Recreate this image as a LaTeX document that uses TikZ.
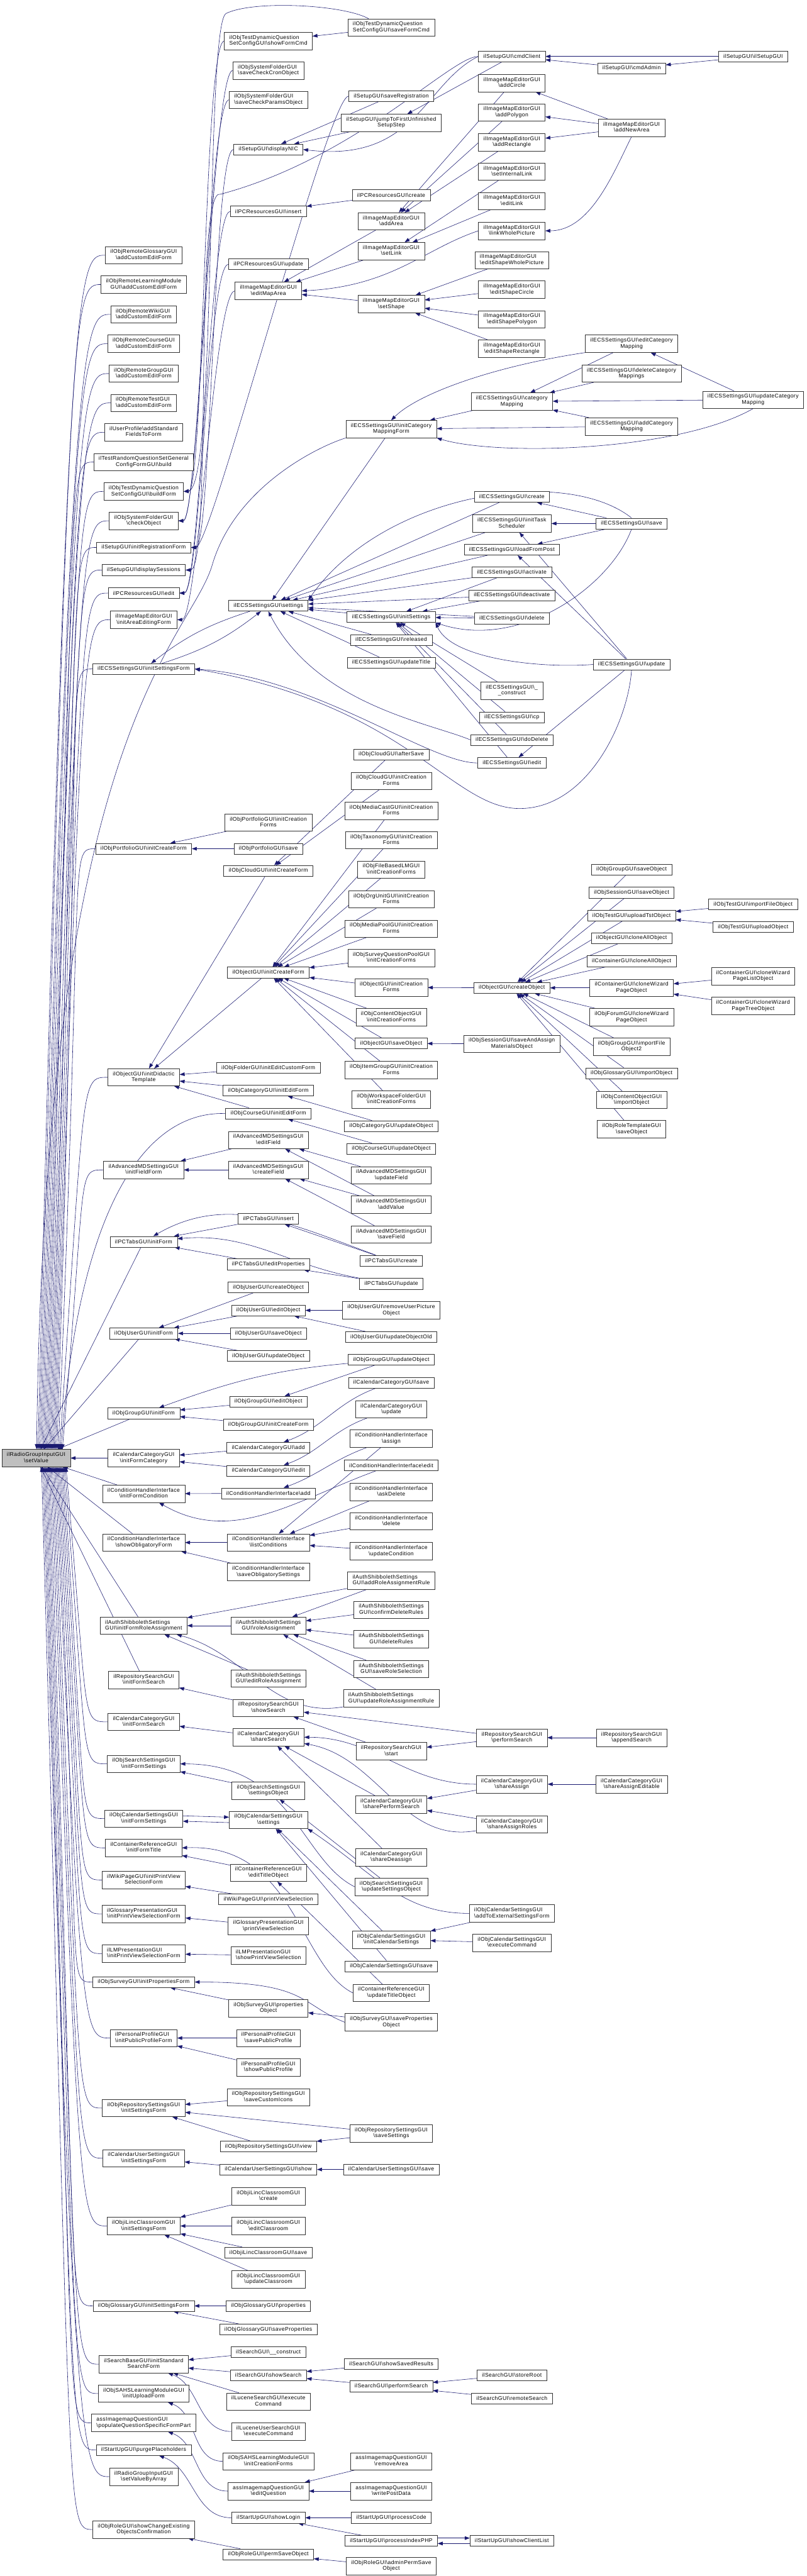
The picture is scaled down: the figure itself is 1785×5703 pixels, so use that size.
\documentclass[tikz,border=0pt]{standalone}
\usepackage{fontspec}
\newfontfamily\dotfont{Liberation Sans}[LetterSpace=5]
\usetikzlibrary{arrows.meta}
\definecolor{edgeblue}{HTML}{191970}
\definecolor{rootgray}{HTML}{BFBFBF}
\newcommand\bs{\textbackslash}
\newcommand\twol[2]{\begin{tabular}{@{}l@{}}#1\\\multicolumn{1}{@{}c@{}}{#2}\end{tabular}}
\pgfdeclarelayer{edges}
\pgfsetlayers{edges,main}

\begin{document}
\begin{tikzpicture}[
        x=1pt, y=-1pt,
        every node/.style={font=\dotfont\fontsize{12}{13.2}\selectfont},
        box/.style={rectangle, draw=black!80, line width=0.8pt, fill=white, inner xsep=11pt, inner ysep=6pt, minimum height=24pt},
        rootbox/.style={box, fill=rootgray},
        arr/.style={{Triangle[length=11pt,width=8pt]}-, draw=edgeblue, line width=0.8pt}
        ]
        \useasboundingbox (0,0) rectangle (1785,5703);

        % edge from the root up or down into a caller
        \def\fromtop#1#2#3{\draw[arr] (root.north -| #2,0) .. controls (#3,0 |- #1.west) and ([xshift=-60pt]#1.west) .. (#1.west);}
        \def\frombot#1#2#3{\draw[arr] (root.south -| #2,0) .. controls (#3,0 |- #1.west) and ([xshift=-60pt]#1.west) .. (#1.west);}
        % long edge between neighbouring columns
        \def\vlong#1#2{\draw[arr] (#1.east) .. controls +(45,0) and +(-45,0) .. (#2.west);}

        % The root
        \node[rootbox] (root) at (80,3228) {\twol{ilRadioGroupInputGUI}{\bs setValue}};

        % Setup and image map
        \node[box] (tdSave) at (866,61) {\twol{ilObjTestDynamicQuestion}{SetConfigGUI\bs saveFormCmd}};
        \node[box] (tdShow) at (594,91) {\twol{ilObjTestDynamicQuestion}{SetConfigGUI\bs showFormCmd}};
        \node[box] (sfCron) at (594,156) {\twol{ilObjSystemFolderGUI}{\bs saveCheckCronObject}};
        \node[box] (sfParams) at (594,221) {\twol{ilObjSystemFolderGUI}{\bs saveCheckParamsObject}};
        \node[box] (suSaveReg) at (866,213) {ilSetupGUI\bs saveRegistration};
        \node[box] (suJump) at (866,272) {\twol{ilSetupGUI\bs jumpToFirstUnfinished}{SetupStep}};
        \node[box] (suNIC) at (594,331) {ilSetupGUI\bs displayNIC};
        \node[box] (suClient) at (1133,125) {ilSetupGUI\bs cmdClient};
        \node[box] (suAdmin) at (1398,151) {ilSetupGUI\bs cmdAdmin};
        \node[box] (suSetup) at (1667,125) {ilSetupGUI\bs ilSetupGUI};
        \node[box] (imCircle) at (1133,184) {\twol{ilImageMapEditorGUI}{\bs addCircle}};
        \node[box] (imPolygon) at (1133,249) {\twol{ilImageMapEditorGUI}{\bs addPolygon}};
        \node[box] (imRect) at (1133,315) {\twol{ilImageMapEditorGUI}{\bs addRectangle}};
        \node[box] (imIntLink) at (1133,380) {\twol{ilImageMapEditorGUI}{\bs setInternalLink}};
        \node[box] (imEditLink) at (1133,445) {\twol{ilImageMapEditorGUI}{\bs editLink}};
        \node[box] (imWhole) at (1133,511) {\twol{ilImageMapEditorGUI}{\bs linkWholePicture}};
        \node[box] (imShWhole) at (1133,576) {\twol{ilImageMapEditorGUI}{\bs editShapeWholePicture}};
        \node[box] (imShCircle) at (1133,641) {\twol{ilImageMapEditorGUI}{\bs editShapeCircle}};
        \node[box] (imShPoly) at (1133,707) {\twol{ilImageMapEditorGUI}{\bs editShapePolygon}};
        \node[box] (imShRect) at (1133,772) {\twol{ilImageMapEditorGUI}{\bs editShapeRectangle}};
        \node[box] (imNewArea) at (1398,283) {\twol{ilImageMapEditorGUI}{\bs addNewArea}};
        \node[box] (pcrCreate) at (866,432) {ilPCResourcesGUI\bs create};
        \node[box] (pcrInsert) at (594,468) {ilPCResourcesGUI\bs insert};
        \node[box] (imAddArea) at (866,490) {\twol{ilImageMapEditorGUI}{\bs addArea}};
        \node[box] (imSetLink) at (866,556) {\twol{ilImageMapEditorGUI}{\bs setLink}};
        \node[box] (pcrUpdate) at (594,585) {ilPCResourcesGUI\bs update};
        \node[box] (imEditMap) at (594,644) {\twol{ilImageMapEditorGUI}{\bs editMapArea}};
        \node[box] (imSetShape) at (866,673) {\twol{ilImageMapEditorGUI}{\bs setShape}};

        % ECS category mapping
        \node[box] (ecsEditMap) at (1398,761) {\twol{ilECSSettingsGUI\bs editCategory}{Mapping}};
        \node[box] (ecsDelMap) at (1398,827) {\twol{ilECSSettingsGUI\bs deleteCategory}{Mappings}};
        \node[box] (ecsCatMap) at (1133,889) {\twol{ilECSSettingsGUI\bs category}{Mapping}};
        \node[box] (ecsUpdMap) at (1667,885) {\twol{ilECSSettingsGUI\bs updateCategory}{Mapping}};
        \node[box] (ecsAddMap) at (1398,944) {\twol{ilECSSettingsGUI\bs addCategory}{Mapping}};
        \node[box] (ecsMapForm) at (866,950) {\twol{ilECSSettingsGUI\bs initCategory}{MappingForm}};

        % Callers in the second column, upper part
        \node[box] (rGloss) at (318,565) {\twol{ilObjRemoteGlossaryGUI}{\bs addCustomEditForm}};
        \node[box] (rLM) at (318,630) {\twol{ilObjRemoteLearningModule}{GUI\bs addCustomEditForm}};
        \node[box] (rWiki) at (318,696) {\twol{ilObjRemoteWikiGUI}{\bs addCustomEditForm}};
        \node[box] (rCourse) at (318,761) {\twol{ilObjRemoteCourseGUI}{\bs addCustomEditForm}};
        \node[box] (rGroup) at (318,827) {\twol{ilObjRemoteGroupGUI}{\bs addCustomEditForm}};
        \node[box] (rTest) at (318,892) {\twol{ilObjRemoteTestGUI}{\bs addCustomEditForm}};
        \node[box] (upStd) at (318,957) {\twol{ilUserProfile\bs addStandard}{FieldsToForm}};
        \node[box] (trBuild) at (318,1023) {\twol{ilTestRandomQuestionSetGeneral}{ConfigFormGUI\bs build}};
        \node[box] (tdBuild) at (318,1088) {\twol{ilObjTestDynamicQuestion}{SetConfigGUI\bs buildForm}};
        \node[box] (sfCheck) at (318,1153) {\twol{ilObjSystemFolderGUI}{\bs checkObject}};
        \node[box] (suRegForm) at (318,1212) {ilSetupGUI\bs initRegistrationForm};
        \node[box] (suSessions) at (318,1262) {ilSetupGUI\bs displaySessions};
        \node[box] (pcrEdit) at (318,1313) {ilPCResourcesGUI\bs edit};
        \node[box] (imAreaForm) at (318,1372) {\twol{ilImageMapEditorGUI}{\bs initAreaEditingForm}};
        \node[box] (ecsSetForm) at (318,1481) {ilECSSettingsGUI\bs initSettingsForm};

        % ECS settings
        \node[box] (ecsSettings) at (594,1341) {ilECSSettingsGUI\bs settings};
        \node[box] (ecsInit) at (866,1366) {ilECSSettingsGUI\bs initSettings};
        \node[box] (ecsReleased) at (866,1417) {ilECSSettingsGUI\bs released};
        \node[box] (ecsUpdTitle) at (866,1467) {ilECSSettingsGUI\bs updateTitle};
        \node[box] (ecsCreate) at (1133,1100) {ilECSSettingsGUI\bs create};
        \node[box] (ecsTask) at (1133,1159) {\twol{ilECSSettingsGUI\bs initTask}{Scheduler}};
        \node[box] (ecsLoad) at (1133,1217) {ilECSSettingsGUI\bs loadFromPost};
        \node[box] (ecsActivate) at (1133,1267) {ilECSSettingsGUI\bs activate};
        \node[box] (ecsDeactivate) at (1133,1318) {ilECSSettingsGUI\bs deactivate};
        \node[box] (ecsDelete) at (1133,1369) {ilECSSettingsGUI\bs delete};
        \node[box] (ecsConstruct) at (1133,1529) {\twol{ilECSSettingsGUI\bs\_}{\_construct}};
        \node[box] (ecsCp) at (1133,1588) {ilECSSettingsGUI\bs cp};
        \node[box] (ecsDoDelete) at (1133,1638) {ilECSSettingsGUI\bs doDelete};
        \node[box] (ecsEdit) at (1133,1689) {ilECSSettingsGUI\bs edit};
        \node[box] (ecsSave) at (1398,1159) {ilECSSettingsGUI\bs save};
        \node[box] (ecsUpdate) at (1398,1471) {ilECSSettingsGUI\bs update};

        % Creation forms
        \node[box] (clAfter) at (866,1670) {ilObjCloudGUI\bs afterSave};
        \node[box] (clCreation) at (866,1729) {\twol{ilObjCloudGUI\bs initCreation}{Forms}};
        \node[box] (mcCreation) at (866,1795) {\twol{ilObjMediaCastGUI\bs initCreation}{Forms}};
        \node[box] (taxCreation) at (866,1860) {\twol{ilObjTaxonomyGUI\bs initCreation}{Forms}};
        \node[box] (pfCreation) at (594,1821) {\twol{ilObjPortfolioGUI\bs initCreation}{Forms}};
        \node[box] (pfCreateForm) at (318,1879) {ilObjPortfolioGUI\bs initCreateForm};
        \node[box] (pfSave) at (594,1879) {ilObjPortfolioGUI\bs save};
        \node[box] (flmCreation) at (866,1925) {\twol{ilObjFileBasedLMGUI}{\bs initCreationForms}};
        \node[box] (clCreateForm) at (594,1928) {ilObjCloudGUI\bs initCreateForm};
        \node[box] (ouCreation) at (866,1991) {\twol{ilObjOrgUnitGUI\bs initCreation}{Forms}};
        \node[box] (mpCreation) at (866,2056) {\twol{ilObjMediaPoolGUI\bs initCreation}{Forms}};
        \node[box] (sqpCreation) at (866,2121) {\twol{ilObjSurveyQuestionPoolGUI}{\bs initCreationForms}};
        \node[box] (obCreateForm) at (594,2153) {ilObjectGUI\bs initCreateForm};
        \node[box] (obCreation) at (866,2186) {\twol{ilObjectGUI\bs initCreation}{Forms}};
        \node[box] (coCreation) at (866,2252) {\twol{ilObjContentObjectGUI}{\bs initCreationForms}};
        \node[box] (obSave) at (866,2310) {ilObjectGUI\bs saveObject};
        \node[box] (igCreation) at (866,2369) {\twol{ilObjItemGroupGUI\bs initCreation}{Forms}};
        \node[box] (wfCreation) at (866,2434) {\twol{ilObjWorkspaceFolderGUI}{\bs initCreationForms}};
        \node[box] (obDidactic) at (318,2385) {\twol{ilObjectGUI\bs initDidactic}{Template}};
        \node[box] (fdEditForm) at (594,2364) {ilObjFolderGUI\bs initEditCustomForm};
        \node[box] (catEditForm) at (594,2414) {ilObjCategoryGUI\bs initEditForm};
        \node[box] (crsEditForm) at (594,2465) {ilObjCourseGUI\bs initEditForm};
        \node[box] (catUpdate) at (866,2493) {ilObjCategoryGUI\bs updateObject};
        \node[box] (crsUpdate) at (866,2543) {ilObjCourseGUI\bs updateObject};
        \node[box] (obCreateObj) at (1133,2187) {ilObjectGUI\bs createObject};
        \node[box] (sessAssign) at (1133,2311) {\twol{ilObjSessionGUI\bs saveAndAssign}{MaterialsObject}};
        \node[box] (grpSave) at (1398,1925) {ilObjGroupGUI\bs saveObject};
        \node[box] (sessSave) at (1398,1976) {ilObjSessionGUI\bs saveObject};
        \node[box] (tstUploadTst) at (1398,2027) {ilObjTestGUI\bs uploadTstObject};
        \node[box] (obClone) at (1398,2077) {ilObjectGUI\bs cloneAllObject};
        \node[box] (contClone) at (1398,2128) {ilContainerGUI\bs cloneAllObject};
        \node[box] (contWizard) at (1398,2187) {\twol{ilContainerGUI\bs cloneWizard}{PageObject}};
        \node[box] (frmWizard) at (1398,2252) {\twol{ilObjForumGUI\bs cloneWizard}{PageObject}};
        \node[box] (grpImport) at (1398,2317) {\twol{ilObjGroupGUI\bs importFile}{Object2}};
        \node[box] (glsImport) at (1398,2376) {ilObjGlossaryGUI\bs importObject};
        \node[box] (coImport) at (1398,2435) {\twol{ilObjContentObjectGUI}{\bs importObject}};
        \node[box] (rtSave) at (1398,2500) {\twol{ilObjRoleTemplateGUI}{\bs saveObject}};
        \node[box] (tstImportFile) at (1667,2002) {ilObjTestGUI\bs importFileObject};
        \node[box] (tstUpload) at (1667,2052) {ilObjTestGUI\bs uploadObject};
        \node[box] (contWizList) at (1667,2161) {\twol{ilContainerGUI\bs cloneWizard}{PageListObject}};
        \node[box] (contWizTree) at (1667,2227) {\twol{ilContainerGUI\bs cloneWizard}{PageTreeObject}};

        % Advanced metadata and tabs
        \node[box] (amdFieldForm) at (318,2590) {\twol{ilAdvancedMDSettingsGUI}{\bs initFieldForm}};
        \node[box] (amdEdit) at (594,2524) {\twol{ilAdvancedMDSettingsGUI}{\bs editField}};
        \node[box] (amdCreate) at (594,2590) {\twol{ilAdvancedMDSettingsGUI}{\bs createField}};
        \node[box] (amdUpdate) at (866,2602) {\twol{ilAdvancedMDSettingsGUI}{\bs updateField}};
        \node[box] (amdAddVal) at (866,2667) {\twol{ilAdvancedMDSettingsGUI}{\bs addValue}};
        \node[box] (amdSave) at (866,2733) {\twol{ilAdvancedMDSettingsGUI}{\bs saveField}};
        \node[box] (tabsForm) at (318,2749) {ilPCTabsGUI\bs initForm};
        \node[box] (tabsInsert) at (594,2698) {ilPCTabsGUI\bs insert};
        \node[box] (tabsEditProps) at (594,2799) {ilPCTabsGUI\bs editProperties};
        \node[box] (tabsCreate) at (866,2791) {ilPCTabsGUI\bs create};
        \node[box] (tabsUpdate) at (866,2842) {ilPCTabsGUI\bs update};

        % Users, groups, calendar categories
        \node[box] (usrForm) at (318,2952) {ilObjUserGUI\bs initForm};
        \node[box] (usrCreate) at (594,2850) {ilObjUserGUI\bs createObject};
        \node[box] (usrEdit) at (594,2901) {ilObjUserGUI\bs editObject};
        \node[box] (usrSave) at (594,2952) {ilObjUserGUI\bs saveObject};
        \node[box] (usrUpdate) at (594,3002) {ilObjUserGUI\bs updateObject};
        \node[box] (usrRemovePic) at (866,2901) {\twol{ilObjUserGUI\bs removeUserPicture}{Object}};
        \node[box] (usrUpdOld) at (866,2960) {ilObjUserGUI\bs updateObjectOld};
        \node[box] (grpForm) at (318,3129) {ilObjGroupGUI\bs initForm};
        \node[box] (grpEdit) at (594,3103) {ilObjGroupGUI\bs editObject};
        \node[box] (grpCreateForm) at (594,3154) {ilObjGroupGUI\bs initCreateForm};
        \node[box] (grpUpdate) at (866,3010) {ilObjGroupGUI\bs updateObject};
        \node[box] (calFormCat) at (318,3228) {\twol{ilCalendarCategoryGUI}{\bs initFormCategory}};
        \node[box] (calAdd) at (594,3205) {ilCalendarCategoryGUI\bs add};
        \node[box] (calEdit) at (594,3256) {ilCalendarCategoryGUI\bs edit};
        \node[box] (calSave) at (866,3061) {ilCalendarCategoryGUI\bs save};
        \node[box] (calUpdate) at (866,3120) {\twol{ilCalendarCategoryGUI}{\bs update}};

        % Conditions
        \node[box] (condForm) at (318,3307) {\twol{ilConditionHandlerInterface}{\bs initFormCondition}};
        \node[box] (condAdd) at (594,3306) {ilConditionHandlerInterface\bs add};
        \node[box] (condAssign) at (866,3185) {\twol{ilConditionHandlerInterface}{\bs assign}};
        \node[box] (condEdit) at (866,3244) {ilConditionHandlerInterface\bs edit};
        \node[box] (condAskDel) at (866,3303) {\twol{ilConditionHandlerInterface}{\bs askDelete}};
        \node[box] (condDelete) at (866,3368) {\twol{ilConditionHandlerInterface}{\bs delete}};
        \node[box] (condUpdate) at (866,3434) {\twol{ilConditionHandlerInterface}{\bs updateCondition}};
        \node[box] (condOblig) at (318,3415) {\twol{ilConditionHandlerInterface}{\bs showObligatoryForm}};
        \node[box] (condList) at (594,3415) {\twol{ilConditionHandlerInterface}{\bs listConditions}};
        \node[box] (condSaveOblig) at (594,3480) {\twol{ilConditionHandlerInterface}{\bs saveObligatorySettings}};

        % Shibboleth
        \node[box] (shibForm) at (318,3599) {\twol{ilAuthShibbolethSettings}{GUI\bs initFormRoleAssignment}};
        \node[box] (shibRole) at (594,3599) {\twol{ilAuthShibbolethSettings}{GUI\bs roleAssignment}};
        \node[box] (shibEditRole) at (594,3716) {\twol{ilAuthShibbolethSettings}{GUI\bs editRoleAssignment}};
        \node[box] (shibAddRule) at (866,3499) {\twol{ilAuthShibbolethSettings}{GUI\bs addRoleAssignmentRule}};
        \node[box] (shibConfirm) at (866,3564) {\twol{ilAuthShibbolethSettings}{GUI\bs confirmDeleteRules}};
        \node[box] (shibDelRules) at (866,3629) {\twol{ilAuthShibbolethSettings}{GUI\bs deleteRules}};
        \node[box] (shibSaveSel) at (866,3695) {\twol{ilAuthShibbolethSettings}{GUI\bs saveRoleSelection}};
        \node[box] (shibUpdRule) at (866,3760) {\twol{ilAuthShibbolethSettings}{GUI\bs updateRoleAssignmentRule}};

        % Searches and settings forms
        \node[box] (rsForm) at (318,3719) {\twol{ilRepositorySearchGUI}{\bs initFormSearch}};
        \node[box] (rsShow) at (594,3781) {\twol{ilRepositorySearchGUI}{\bs showSearch}};
        \node[box] (rsStart) at (866,3877) {\twol{ilRepositorySearchGUI}{\bs start}};
        \node[box] (rsPerform) at (1133,3847) {\twol{ilRepositorySearchGUI}{\bs performSearch}};
        \node[box] (rsAppend) at (1398,3847) {\twol{ilRepositorySearchGUI}{\bs appendSearch}};
        \node[box] (ccForm) at (318,3812) {\twol{ilCalendarCategoryGUI}{\bs initFormSearch}};
        \node[box] (ccShare) at (594,3846) {\twol{ilCalendarCategoryGUI}{\bs shareSearch}};
        \node[box] (ccPerform) at (866,3995) {\twol{ilCalendarCategoryGUI}{\bs sharePerformSearch}};
        \node[box] (ccDeassign) at (866,4112) {\twol{ilCalendarCategoryGUI}{\bs shareDeassign}};
        \node[box] (ccAssign) at (1133,3950) {\twol{ilCalendarCategoryGUI}{\bs shareAssign}};
        \node[box] (ccAssignRoles) at (1133,4039) {\twol{ilCalendarCategoryGUI}{\bs shareAssignRoles}};
        \node[box] (ccAssignEd) at (1398,3950) {\twol{ilCalendarCategoryGUI}{\bs shareAssignEditable}};
        \node[box] (ssForm) at (318,3905) {\twol{ilObjSearchSettingsGUI}{\bs initFormSettings}};
        \node[box] (ssObj) at (594,3964) {\twol{ilObjSearchSettingsGUI}{\bs settingsObject}};
        \node[box] (ssUpd) at (866,4177) {\twol{ilObjSearchSettingsGUI}{\bs updateSettingsObject}};
        \node[box] (csForm) at (318,4026) {\twol{ilObjCalendarSettingsGUI}{\bs initFormSettings}};
        \node[box] (csSettings) at (594,4029) {\twol{ilObjCalendarSettingsGUI}{\bs settings}};
        \node[box] (csInit) at (866,4294) {\twol{ilObjCalendarSettingsGUI}{\bs initCalendarSettings}};
        \node[box] (csSave) at (866,4353) {ilObjCalendarSettingsGUI\bs save};
        \node[box] (csExtForm) at (1133,4236) {\twol{ilObjCalendarSettingsGUI}{\bs addToExternalSettingsForm}};
        \node[box] (csExec) at (1133,4301) {\twol{ilObjCalendarSettingsGUI}{\bs executeCommand}};
        \node[box] (crForm) at (318,4091) {\twol{ilContainerReferenceGUI}{\bs initFormTitle}};
        \node[box] (crEdit) at (594,4146) {\twol{ilContainerReferenceGUI}{\bs editTitleObject}};
        \node[box] (crUpd) at (866,4412) {\twol{ilContainerReferenceGUI}{\bs updateTitleObject}};
        \node[box] (wpForm) at (318,4162) {\twol{ilWikiPageGUI\bs initPrintView}{SelectionForm}};
        \node[box] (wpPrint) at (594,4205) {ilWikiPageGUI\bs printViewSelection};
        \node[box] (gpForm) at (318,4237) {\twol{ilGlossaryPresentationGUI}{\bs initPrintViewSelectionForm}};
        \node[box] (gpPrint) at (594,4264) {\twol{ilGlossaryPresentationGUI}{\bs printViewSelection}};
        \node[box] (lmForm) at (318,4325) {\twol{ilLMPresentationGUI}{\bs initPrintViewSelectionForm}};
        \node[box] (lmShow) at (594,4329) {\twol{ilLMPresentationGUI}{\bs showPrintViewSelection}};
        \node[box] (svForm) at (318,4388) {ilObjSurveyGUI\bs initPropertiesForm};
        \node[box] (svProps) at (594,4446) {\twol{ilObjSurveyGUI\bs properties}{Object}};
        \node[box] (svSave) at (866,4477) {\twol{ilObjSurveyGUI\bs saveProperties}{Object}};
        \node[box] (ppForm) at (318,4512) {\twol{ilPersonalProfileGUI}{\bs initPublicProfileForm}};
        \node[box] (ppSave) at (594,4512) {\twol{ilPersonalProfileGUI}{\bs savePublicProfile}};
        \node[box] (ppShow) at (594,4577) {\twol{ilPersonalProfileGUI}{\bs showPublicProfile}};
        \node[box] (rpForm) at (318,4667) {\twol{ilObjRepositorySettingsGUI}{\bs initSettingsForm}};
        \node[box] (rpIcons) at (594,4643) {\twol{ilObjRepositorySettingsGUI}{\bs saveCustomIcons}};
        \node[box] (rpView) at (594,4752) {ilObjRepositorySettingsGUI\bs view};
        \node[box] (rpSave) at (866,4723) {\twol{ilObjRepositorySettingsGUI}{\bs saveSettings}};
        \node[box] (cuForm) at (318,4778) {\twol{ilCalendarUserSettingsGUI}{\bs initSettingsForm}};
        \node[box] (cuShow) at (594,4803) {ilCalendarUserSettingsGUI\bs show};
        \node[box] (cuSave) at (866,4803) {ilCalendarUserSettingsGUI\bs save};
        \node[box] (ilForm) at (318,4928) {\twol{ilObjiLincClassroomGUI}{\bs initSettingsForm}};
        \node[box] (ilCreate) at (594,4862) {\twol{ilObjiLincClassroomGUI}{\bs create}};
        \node[box] (ilEdit) at (594,4928) {\twol{ilObjiLincClassroomGUI}{\bs editClassroom}};
        \node[box] (ilSave) at (594,4987) {ilObjiLincClassroomGUI\bs save};
        \node[box] (ilUpdate) at (594,5046) {\twol{ilObjiLincClassroomGUI}{\bs updateClassroom}};
        \node[box] (glForm) at (318,5105) {ilObjGlossaryGUI\bs initSettingsForm};
        \node[box] (glProps) at (594,5105) {ilObjGlossaryGUI\bs properties};
        \node[box] (glSaveProps) at (594,5157) {ilObjGlossaryGUI\bs saveProperties};
        \node[box] (sbForm) at (318,5234) {\twol{ilSearchBaseGUI\bs initStandard}{SearchForm}};
        \node[box] (srConstruct) at (594,5207) {ilSearchGUI\bs\_\_construct};
        \node[box] (srShow) at (594,5258) {ilSearchGUI\bs showSearch};
        \node[box] (lsExec) at (594,5317) {\twol{ilLuceneSearchGUI\bs execute}{Command}};
        \node[box] (lusExec) at (594,5383) {\twol{ilLuceneUserSearchGUI}{\bs executeCommand}};
        \node[box] (srSaved) at (866,5233) {ilSearchGUI\bs showSavedResults};
        \node[box] (srPerform) at (866,5283) {ilSearchGUI\bs performSearch};
        \node[box] (srStore) at (1133,5258) {ilSearchGUI\bs storeRoot};
        \node[box] (srRemote) at (1133,5310) {ilSearchGUI\bs remoteSearch};
        \node[box] (sahsForm) at (318,5299) {\twol{ilObjSAHSLearningModuleGUI}{\bs initUploadForm}};
        \node[box] (sahsCreation) at (594,5449) {\twol{ilObjSAHSLearningModuleGUI}{\bs initCreationForms}};
        \node[box] (aqPopulate) at (318,5364) {\twol{assImagemapQuestionGUI}{\bs populateQuestionSpecificFormPart}};
        \node[box] (aqEdit) at (594,5515) {\twol{assImagemapQuestionGUI}{\bs editQuestion}};
        \node[box] (aqRemove) at (866,5449) {\twol{assImagemapQuestionGUI}{\bs removeArea}};
        \node[box] (aqWrite) at (866,5515) {\twol{assImagemapQuestionGUI}{\bs writePostData}};
        \node[box] (stPurge) at (318,5424) {ilStartUpGUI\bs purgePlaceholders};
        \node[box] (stLogin) at (594,5574) {ilStartUpGUI\bs showLogin};
        \node[box] (stCode) at (866,5574) {ilStartUpGUI\bs processCode};
        \node[box] (stIndex) at (866,5625) {ilStartUpGUI\bs processIndexPHP};
        \node[box] (stClients) at (1133,5625) {ilStartUpGUI\bs showClientList};
        \node[box] (rgArray) at (318,5483) {\twol{ilRadioGroupInputGUI}{\bs setValueByArray}};
        \node[box] (roConfirm) at (318,5600) {\twol{ilObjRoleGUI\bs showChangeExisting}{ObjectsConfirmation}};
        \node[box] (roPermSave) at (594,5655) {ilObjRoleGUI\bs permSaveObject};
        \node[box] (roAdmin) at (866,5681) {\twol{ilObjRoleGUI\bs adminPermSave}{Object}};

        \begin{pgfonlayer}{edges}
        % Root to its callers
        \fromtop{rGloss}{84}{150} \fromtop{rLM}{87}{153} \fromtop{rWiki}{90}{156} \fromtop{rCourse}{93}{159}
        \fromtop{rGroup}{96}{162} \fromtop{rTest}{99}{165} \fromtop{upStd}{102}{168} \fromtop{trBuild}{105}{170}
        \fromtop{tdBuild}{108}{172} \fromtop{sfCheck}{111}{174} \fromtop{suRegForm}{114}{176} \fromtop{suSessions}{117}{178}
        \fromtop{pcrEdit}{120}{180} \fromtop{imAreaForm}{123}{182} \fromtop{ecsSetForm}{126}{184} \fromtop{pfCreateForm}{129}{186}
        \fromtop{obDidactic}{132}{188} \fromtop{crsEditForm}{135}{190} \fromtop{amdFieldForm}{138}{192}
        \draw[arr] (root.north -| 81,0) .. controls (100,1600) and (420,1420) .. (470,1250) .. controls (520,1080) and (700,990) .. (ecsMapForm.south west);
        \draw[arr] (root) -- (tabsForm);
        \draw[arr] (root) -- (usrForm);
        \draw[arr] (root) -- (grpForm);
        \draw[arr] (root) -- (calFormCat);
        \draw[arr] (root) -- (condForm);
        \draw[arr] (root) -- (condOblig);
        \draw[arr] (root) -- (shibForm);
        \draw[arr] (root) -- (rsForm);
        \frombot{ccForm}{146}{196} \frombot{ssForm}{143}{194} \frombot{csForm}{140}{192} \frombot{crForm}{137}{190}
        \frombot{wpForm}{134}{188} \frombot{gpForm}{131}{186} \frombot{lmForm}{128}{184} \frombot{svForm}{125}{182}
        \frombot{ppForm}{122}{180} \frombot{rpForm}{119}{178} \frombot{cuForm}{116}{176} \frombot{ilForm}{113}{174}
        \frombot{glForm}{110}{172} \frombot{sbForm}{107}{170} \frombot{sahsForm}{104}{168} \frombot{aqPopulate}{101}{166}
        \frombot{stPurge}{98}{164} \frombot{rgArray}{95}{162} \frombot{roConfirm}{92}{160}

        % Setup
        \draw[arr] (suClient) -- (suSetup);
        \draw[arr] (suClient) -- (suAdmin);
        \draw[arr] (suAdmin) -- (suSetup);
        \draw[arr] (suJump) -- (suClient);
        \draw[arr] (suNIC) -- (suSaveReg);
        \draw[arr] (suNIC) -- (suJump);
        \draw[arr] (suNIC.east) .. controls +(250,30) and +(-120,60) .. (suClient.west);
        \vlong{suRegForm}{suNIC}
        \vlong{suRegForm}{suSaveReg}
        \draw[arr] (suSessions.east) .. controls +(60,0) and +(-60,-20) .. (488,430) .. controls +(300,-80) and +(-60,0) .. (suClient.west);
        \draw[arr] (tdShow) -- (tdSave);
        \vlong{tdBuild}{tdShow}
        \draw[arr] (tdBuild.east) .. controls (480,1080) and (455,60) .. (500,30) .. controls (560,0) and (760,10) .. ([xshift=-50pt]tdSave.north);
        \vlong{sfCheck}{sfCron}
        \vlong{sfCheck}{sfParams}
        \draw[arr] (pcrInsert) -- (pcrCreate);
        \vlong{pcrEdit}{pcrInsert}
        \vlong{pcrEdit}{pcrUpdate}

        % Image map editor
        \vlong{imAreaForm}{imEditMap}
        \draw[arr] (imEditMap) -- (imAddArea);
        \draw[arr] (imEditMap) -- (imSetLink);
        \draw[arr] (imEditMap) -- (imSetShape);
        \draw[arr] (imEditMap.east) .. controls +(200,-10) and +(-120,40) .. (imWhole.west);
        \draw[arr] (imAddArea) -- (imCircle);
        \draw[arr] (imAddArea) -- (imPolygon);
        \draw[arr] (imAddArea) -- (imRect);
        \draw[arr] (imSetLink) -- (imIntLink);
        \draw[arr] (imSetLink) -- (imEditLink);
        \draw[arr] (imSetShape) -- (imShWhole);
        \draw[arr] (imSetShape) -- (imShCircle);
        \draw[arr] (imSetShape) -- (imShPoly);
        \draw[arr] (imSetShape) -- (imShRect);
        \draw[arr] (imCircle) -- (imNewArea);
        \draw[arr] (imPolygon) -- (imNewArea);
        \draw[arr] (imRect) -- (imNewArea);
        \draw[arr] (imWhole.east) .. controls +(100,0) and +(-40,80) .. (imNewArea.south);

        % ECS
        \draw[arr] (ecsCatMap) -- (ecsEditMap);
        \draw[arr] (ecsCatMap) -- (ecsDelMap);
        \draw[arr] (ecsCatMap) -- (ecsUpdMap);
        \draw[arr] (ecsCatMap) -- (ecsAddMap);
        \draw[arr] (ecsEditMap) -- (ecsUpdMap);
        \draw[arr] (ecsMapForm) -- (ecsCatMap);
        \draw[arr] (ecsMapForm) -- (ecsAddMap);
        \draw[arr] (ecsMapForm.north) .. controls +(60,-60) and +(-200,30) .. (ecsEditMap.south west);
        \draw[arr] (ecsMapForm.south east) .. controls (1100,1010) and (1500,1000) .. (ecsUpdMap.south);
        \draw[arr] (ecsSettings) -- (ecsMapForm);
        \draw[arr] (ecsSetForm) to[bend left=10] (ecsSettings);
        \draw[arr] (ecsSettings) to[bend left=10] (ecsSetForm);
        \draw[arr] (ecsSettings) -- (ecsInit);
        \draw[arr] (ecsSettings) -- (ecsReleased);
        \draw[arr] (ecsSettings) -- (ecsUpdTitle);
        \draw[arr] (ecsSettings) -- (ecsCreate);
        \draw[arr] (ecsSettings) -- (ecsTask);
        \draw[arr] (ecsSettings) -- (ecsLoad);
        \draw[arr] (ecsSettings) -- (ecsActivate);
        \draw[arr] (ecsSettings) -- (ecsDeactivate);
        \draw[arr] (ecsSettings) -- (ecsDelete);
        \draw[arr] (ecsSettings.south) .. controls (700,1560) and (950,1600) .. (ecsDoDelete.west);
        \draw[arr] (ecsSettings.north east) .. controls (850,1090) and (1250,1030) .. (ecsSave.north);
        \draw[arr] (ecsInit) -- (ecsActivate);
        \draw[arr] (ecsInit) -- (ecsDeactivate);
        \draw[arr] (ecsInit) -- (ecsDelete);
        \draw[arr] (ecsInit) -- (ecsConstruct);
        \draw[arr] (ecsInit) -- (ecsCp);
        \draw[arr] (ecsInit) -- (ecsDoDelete);
        \draw[arr] (ecsInit) -- (ecsEdit);
        \draw[arr] (ecsInit.south east) .. controls (1150,1440) and (1350,1300) .. (ecsSave.south);
        \draw[arr] (ecsInit.south east) .. controls (1000,1460) and (1200,1480) .. (ecsUpdate.west);
        \draw[arr] (ecsCreate) -- (ecsSave);
        \draw[arr] (ecsTask) -- (ecsSave);
        \draw[arr] (ecsLoad) -- (ecsSave);
        \draw[arr] (ecsTask) -- (ecsUpdate);
        \draw[arr] (ecsLoad) -- (ecsUpdate);
        \draw[arr] (ecsEdit) -- (ecsUpdate);
        \draw[arr] (ecsSetForm.east) .. controls (700,1500) and (950,1690) .. (ecsEdit.west);
        \draw[arr] (ecsSetForm.east) .. controls (900,1560) and (1000,1790) .. (1150,1790) .. controls (1300,1790) and (1390,1600) .. (ecsUpdate.south);

        % Creation forms and objects
        \draw[arr] (clCreateForm) -- (clAfter);
        \draw[arr] (clCreateForm) -- (clCreation);
        \draw[arr] (obCreateForm) -- (mcCreation);
        \draw[arr] (obCreateForm) -- (taxCreation);
        \draw[arr] (obCreateForm) -- (flmCreation);
        \draw[arr] (obCreateForm) -- (ouCreation);
        \draw[arr] (obCreateForm) -- (mpCreation);
        \draw[arr] (obCreateForm) -- (sqpCreation);
        \draw[arr] (obCreateForm) -- (obCreation);
        \draw[arr] (obCreateForm) -- (coCreation);
        \draw[arr] (obCreateForm) -- (obSave);
        \draw[arr] (obCreateForm) -- (igCreation);
        \draw[arr] (obCreateForm) -- (wfCreation);
        \draw[arr] (pfCreateForm) -- (pfCreation);
        \draw[arr] (pfCreateForm) -- (pfSave);
        \draw[arr] (obDidactic) -- (clCreateForm);
        \draw[arr] (obDidactic) -- (obCreateForm);
        \draw[arr] (obDidactic) -- (fdEditForm);
        \draw[arr] (obDidactic) -- (catEditForm);
        \draw[arr] (obDidactic) -- (crsEditForm);
        \draw[arr] (catEditForm) -- (catUpdate);
        \draw[arr] (crsEditForm) -- (crsUpdate);
        \draw[arr] (obCreation) -- (obCreateObj);
        \draw[arr] (obSave) -- (sessAssign);
        \draw[arr] (obCreateObj) -- (grpSave);
        \draw[arr] (obCreateObj) -- (sessSave);
        \draw[arr] (obCreateObj) -- (tstUploadTst);
        \draw[arr] (obCreateObj) -- (obClone);
        \draw[arr] (obCreateObj) -- (contClone);
        \draw[arr] (obCreateObj) -- (contWizard);
        \draw[arr] (obCreateObj) -- (frmWizard);
        \draw[arr] (obCreateObj) -- (grpImport);
        \draw[arr] (obCreateObj) -- (glsImport);
        \draw[arr] (obCreateObj) -- (coImport);
        \draw[arr] (obCreateObj) -- (rtSave);
        \draw[arr] (tstUploadTst) -- (tstImportFile);
        \draw[arr] (tstUploadTst) -- (tstUpload);
        \draw[arr] (contWizard) -- (contWizList);
        \draw[arr] (contWizard) -- (contWizTree);

        % Metadata fields and tabs
        \draw[arr] (amdFieldForm) -- (amdEdit);
        \draw[arr] (amdFieldForm) -- (amdCreate);
        \draw[arr] (amdEdit) -- (amdUpdate);
        \draw[arr] (amdEdit) -- (amdAddVal);
        \draw[arr] (amdCreate) -- (amdAddVal);
        \draw[arr] (amdCreate) -- (amdSave);
        \draw[arr] (tabsForm) -- (tabsInsert);
        \draw[arr] (tabsForm) -- (tabsEditProps);
        \draw[arr] (tabsForm) to[out=30,in=160] (tabsCreate);
        \draw[arr] (tabsForm) to[out=5,in=170] (tabsUpdate);
        \draw[arr] (tabsInsert) -- (tabsCreate);
        \draw[arr] (tabsEditProps) -- (tabsUpdate);

        % Users, groups, calendar
        \draw[arr] (usrForm) -- (usrCreate);
        \draw[arr] (usrForm) -- (usrEdit);
        \draw[arr] (usrForm) -- (usrSave);
        \draw[arr] (usrForm) -- (usrUpdate);
        \draw[arr] (usrEdit) -- (usrRemovePic);
        \draw[arr] (usrEdit) -- (usrUpdOld);
        \draw[arr] (grpForm) -- (grpEdit);
        \draw[arr] (grpForm) -- (grpCreateForm);
        \draw[arr] (grpForm) to[out=20,in=185] (grpUpdate);
        \draw[arr] (grpEdit) -- (grpUpdate);
        \draw[arr] (calFormCat) -- (calAdd);
        \draw[arr] (calFormCat) -- (calEdit);
        \draw[arr] (calAdd) to[out=20,in=200] (calSave);
        \draw[arr] (calEdit) to[out=20,in=200] (calUpdate);

        % Conditions
        \draw[arr] (condForm) -- (condAdd);
        \draw[arr] (condForm) to[out=-30,in=200] (condEdit);
        \draw[arr] (condAdd) to[out=20,in=200] (condAssign);
        \draw[arr] (condList) -- (condAssign);
        \draw[arr] (condList) -- (condAskDel);
        \draw[arr] (condList) -- (condDelete);
        \draw[arr] (condList) -- (condUpdate);
        \draw[arr] (condOblig) -- (condList);
        \draw[arr] (condOblig) -- (condSaveOblig);

        % Shibboleth
        \draw[arr] (shibForm) -- (shibRole);
        \draw[arr] (shibForm) -- (shibEditRole);
        \draw[arr] (shibForm) -- (shibAddRule);
        \draw[arr] (shibForm) to[out=-15,in=190] (shibUpdRule);
        \draw[arr] (shibRole) -- (shibAddRule);
        \draw[arr] (shibRole) -- (shibConfirm);
        \draw[arr] (shibRole) -- (shibDelRules);
        \draw[arr] (shibRole) -- (shibSaveSel);
        \draw[arr] (shibRole) -- (shibUpdRule);

        % Searches
        \draw[arr] (rsForm) -- (rsShow);
        \draw[arr] (rsShow) -- (rsStart);
        \draw[arr] (rsShow) -- (rsPerform);
        \draw[arr] (rsStart) -- (rsPerform);
        \draw[arr] (rsPerform) -- (rsAppend);
        \draw[arr] (ccForm) -- (ccShare);
        \draw[arr] (ccShare) -- (ccPerform);
        \draw[arr] (ccShare) -- (ccDeassign);
        \draw[arr] (ccShare) to[out=0,in=180] (ccAssign);
        \draw[arr] (ccShare) to[out=-10,in=190] (ccAssignRoles);
        \draw[arr] (ccPerform) -- (ccAssign);
        \draw[arr] (ccPerform) -- (ccAssignRoles);
        \draw[arr] (ccAssign) -- (ccAssignEd);
        \draw[arr] (ssForm) -- (ssObj);
        \draw[arr] (ssForm.east) .. controls +(250,0) and +(-120,-60) .. (ssUpd.west);
        \draw[arr] (ssObj) -- (ssUpd);
        \draw[arr] ([yshift=6pt]csSettings.west) -- ([yshift=6pt]csForm.east);
        \draw[arr] ([yshift=-6pt]csForm.east) -- ([yshift=-6pt]csSettings.west);
        \draw[arr] (csSettings) -- (csInit);
        \draw[arr] (csSettings) -- (csSave);
        \draw[arr] (csSettings.south east) .. controls +(150,100) and +(-150,0) .. (csExtForm.west);
        \draw[arr] (csInit) -- (csExtForm);
        \draw[arr] (csInit) -- (csExec);
        \draw[arr] (crForm) -- (crEdit);
        \draw[arr] (crForm.east) .. controls +(250,-10) and +(-120,-60) .. (crUpd.west);
        \draw[arr] (crEdit) -- (crUpd);
        \draw[arr] (wpForm) -- (wpPrint);
        \draw[arr] (gpForm) -- (gpPrint);
        \draw[arr] (lmForm) -- (lmShow);
        \draw[arr] (svForm) -- (svProps);
        \draw[arr] (svForm.east) .. controls +(250,0) and +(-100,-40) .. (svSave.west);
        \draw[arr] (svProps) -- (svSave);
        \draw[arr] (ppForm) -- (ppSave);
        \draw[arr] (ppForm) -- (ppShow);
        \draw[arr] (rpForm) -- (rpIcons);
        \draw[arr] (rpForm) -- (rpView);
        \draw[arr] (rpForm) -- (rpSave);
        \draw[arr] (rpView) -- (rpSave);
        \draw[arr] (cuForm) -- (cuShow);
        \draw[arr] (cuShow) -- (cuSave);
        \draw[arr] (ilForm) -- (ilCreate);
        \draw[arr] (ilForm) -- (ilEdit);
        \draw[arr] (ilForm) -- (ilSave);
        \draw[arr] (ilForm) -- (ilUpdate);
        \draw[arr] (glForm) -- (glProps);
        \draw[arr] (glForm) -- (glSaveProps);
        \draw[arr] (sbForm) -- (srConstruct);
        \draw[arr] (sbForm) -- (srShow);
        \draw[arr] (sbForm) -- (lsExec);
        \draw[arr] (sbForm) to[out=-20,in=180] (lusExec);
        \draw[arr] (srShow) -- (srSaved);
        \draw[arr] (srShow) -- (srPerform);
        \draw[arr] (srPerform) -- (srStore);
        \draw[arr] (srPerform) -- (srRemote);
        \draw[arr] (sahsForm) to[out=-20,in=180] (sahsCreation);
        \draw[arr] (aqPopulate) to[out=-20,in=180] (aqEdit);
        \draw[arr] (aqEdit) -- (aqRemove);
        \draw[arr] (aqEdit) -- (aqWrite);
        \draw[arr] (stPurge) to[out=-20,in=180] (stLogin);
        \draw[arr] (stLogin) -- (stCode);
        \draw[arr] (stLogin) -- (stIndex);
        \draw[arr] ([yshift=6pt]stClients.west) -- ([yshift=6pt]stIndex.east);
        \draw[arr] ([yshift=-6pt]stIndex.east) -- ([yshift=-6pt]stClients.west);
        \draw[arr] (roConfirm) -- (roPermSave);
        \draw[arr] (roPermSave) -- (roAdmin);
        \end{pgfonlayer}

    \end{tikzpicture}
\end{document}
